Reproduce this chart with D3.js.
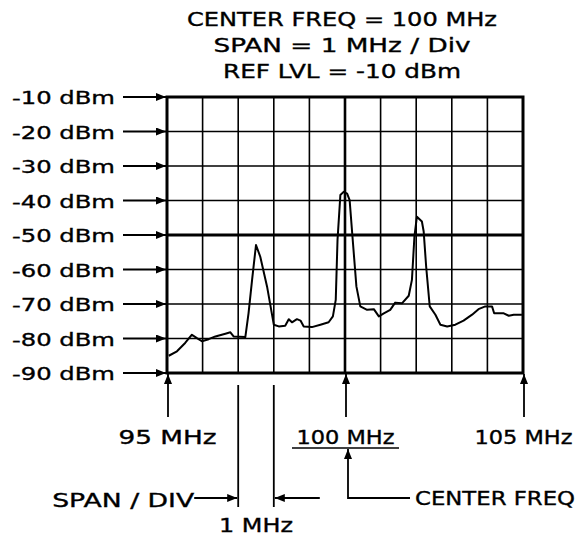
<!DOCTYPE html>
<html>
<head>
<meta charset="utf-8">
<script src="https://cdn.jsdelivr.net/npm/d3@7"></script>
<style>
  body { margin: 0; background: #fff; }
  svg text { font-family: "DejaVu Sans", sans-serif; fill: #000; stroke: #000; stroke-width: 0.35px; }
</style>
</head>
<body>
<div id="graf"></div>
<script>
// values
const titulos = ['CENTER FREQ = 100 MHz', 'SPAN = 1 MHz / Div', 'REF LVL = -10 dBm']
const niveles = [-10, -20, -30, -40, -50, -60, -70, -80, -90]
const freqTicks = [95, 100, 105]
const divisiones = [95, 96, 97, 98, 99, 100, 101, 102, 103, 104, 105]
const spanDiv = [97, 98]
const traceFreq = [95.05, 95.28, 95.51, 95.70, 95.84, 95.98, 96.17, 96.36, 96.64, 96.78, 96.87, 97.20,
  97.29, 97.39, 97.50, 97.62, 97.81, 98.00, 98.14, 98.32, 98.42, 98.51, 98.65, 98.75, 98.84, 99.07,
  99.31, 99.54, 99.66, 99.74, 99.79, 99.87, 99.96, 100.06, 100.13, 100.21, 100.32, 100.43, 100.62,
  100.81, 100.95, 101.09, 101.27, 101.41, 101.60, 101.79, 101.88, 101.95, 102.02, 102.16, 102.21,
  102.28, 102.38, 102.54, 102.68, 102.87, 103.10, 103.33, 103.57, 103.75, 103.94, 104.13, 104.19,
  104.46, 104.60, 104.74, 104.97]
const traceDbm = [-85.0, -83.7, -81.3, -78.9, -79.9, -80.8, -80.2, -79.4, -78.6, -78.2, -79.4, -79.6,
  -72.7, -63.0, -52.9, -56.3, -64.9, -76.0, -76.5, -76.3, -74.4, -75.3, -74.4, -74.8, -76.5, -76.7,
  -76.0, -75.3, -73.6, -68.8, -51.4, -38.4, -37.5, -38.0, -39.9, -50.5, -64.9, -70.7, -71.7,
  -71.5, -73.6, -72.7, -71.7, -69.6, -69.8, -67.6, -63.0, -50.5, -44.7, -46.1, -49.0,
  -59.2, -70.7, -73.1, -76.0, -76.5, -76.0, -74.8, -73.1, -71.5, -70.7, -70.7, -72.7,
  -72.7, -73.4, -73.1, -73.1]

const anchoTotal = 577
const altoTotal = 535
const margin = { top: 97, left: 167, right: 54, bottom: 162 }
const ancho = anchoTotal - margin.left - margin.right
const alto = altoTotal - margin.top - margin.bottom

const svg = d3.select('#graf')
  .append('svg')
  .attr('width', anchoTotal)
  .attr('height', altoTotal)

// arrow head
svg.append('defs').append('marker')
  .attr('id', 'flecha')
  .attr('markerUnits', 'userSpaceOnUse')
  .attr('viewBox', '0 0 10 8')
  .attr('refX', 10)
  .attr('refY', 4)
  .attr('markerWidth', 11)
  .attr('markerHeight', 8)
  .attr('orient', 'auto')
  .append('path')
  .attr('d', 'M0,0 L10,4 L0,8 Z')
  .attr('fill', '#000')

const g = svg.append('g')
  .attr('transform', `translate(${margin.left}, ${margin.top})`)

const x = d3.scaleLinear().domain([95, 105]).range([0, ancho])
const y = d3.scaleLinear().domain([-90, -10]).range([alto, 0])

// titulo
const anchos = [310, 257, 238]
svg.selectAll('text.titulo')
  .data(titulos)
  .enter()
  .append('text')
  .attr('class', 'titulo')
  .attr('x', 342)
  .attr('y', (d, i) => 26 + i * 26)
  .attr('text-anchor', 'middle')
  .attr('font-size', 19)
  .attr('textLength', (d, i) => anchos[i])
  .attr('lengthAdjust', 'spacingAndGlyphs')
  .text(d => d)

// grid
g.append('g')
  .selectAll('line.v')
  .data(divisiones)
  .enter()
  .append('line')
  .attr('x1', d => x(d)).attr('x2', d => x(d))
  .attr('y1', 0).attr('y2', alto)
  .attr('stroke', '#000')
  .attr('stroke-width', d => d === 100 ? 2.6 : 1.6)

g.append('g')
  .selectAll('line.h')
  .data(niveles)
  .enter()
  .append('line')
  .attr('x1', 0).attr('x2', ancho)
  .attr('y1', d => y(d)).attr('y2', d => y(d))
  .attr('stroke', '#000')
  .attr('stroke-width', d => d === -50 ? 2.8 : 1.6)

g.append('rect')
  .attr('x', 0).attr('y', 0)
  .attr('width', ancho).attr('height', alto)
  .attr('fill', 'none')
  .attr('stroke', '#000')
  .attr('stroke-width', 3)

// eje izquierdo: etiquetas dBm
const yAxisGroup = g.append('g')
  .attr('class', 'ejes')
  .call(d3.axisLeft(y).tickValues(niveles).tickSize(0).tickPadding(52)
    .tickFormat(d => `${d} dBm`))
yAxisGroup.select('.domain').remove()
yAxisGroup.selectAll('text')
  .attr('font-family', '"DejaVu Sans", sans-serif')
  .attr('font-size', 17.5)
  .attr('dy', '0.38em')
  .attr('textLength', 103)
  .attr('lengthAdjust', 'spacingAndGlyphs')

g.append('g')
  .selectAll('line')
  .data(niveles)
  .enter()
  .append('line')
  .attr('x1', -44).attr('x2', -1)
  .attr('y1', d => y(d)).attr('y2', d => y(d))
  .attr('stroke', '#000')
  .attr('stroke-width', 1.8)
  .attr('marker-end', 'url(#flecha)')

// eje inferior: MHz
const xAxisGroup = g.append('g')
  .attr('class', 'ejes')
  .attr('transform', `translate(0, ${alto})`)
  .call(d3.axisBottom(x).tickValues(freqTicks).tickSize(0).tickPadding(71)
    .tickFormat(d => `${d} MHz`))
xAxisGroup.select('.domain').remove()
xAxisGroup.selectAll('text')
  .attr('font-family', '"DejaVu Sans", sans-serif')
  .attr('font-size', 19)
  .attr('dy', 0)
  .attr('textLength', 98)
  .attr('lengthAdjust', 'spacingAndGlyphs')

g.append('g')
  .selectAll('line')
  .data(freqTicks)
  .enter()
  .append('line')
  .attr('x1', d => x(d) + 1).attr('x2', d => x(d) + 1)
  .attr('y1', alto + 44).attr('y2', alto + 1)
  .attr('stroke', '#000')
  .attr('stroke-width', 1.8)
  .attr('marker-end', 'url(#flecha)')

// underline 100 MHz
g.append('line')
  .attr('x1', x(100) - 53).attr('x2', x(100) + 54)
  .attr('y1', alto + 75).attr('y2', alto + 75)
  .attr('stroke', '#000').attr('stroke-width', 1.6)

// CENTER FREQ pointer
g.append('path')
  .attr('d', `M${x(100) + 65},${alto + 125} H${x(100) + 3} V${alto + 76}`)
  .attr('fill', 'none')
  .attr('stroke', '#000').attr('stroke-width', 1.8)
  .attr('marker-end', 'url(#flecha)')
g.append('text')
  .attr('x', x(100) + 70).attr('y', alto + 132)
  .attr('font-size', 19)
  .attr('textLength', 160)
  .attr('lengthAdjust', 'spacingAndGlyphs')
  .text('CENTER FREQ')

// SPAN / DIV
g.selectAll('line.span')
  .data(spanDiv)
  .enter()
  .append('line')
  .attr('x1', d => x(d)).attr('x2', d => x(d))
  .attr('y1', alto + 12).attr('y2', alto + 134)
  .attr('stroke', '#000').attr('stroke-width', 1.8)
g.append('line')
  .attr('x1', x(spanDiv[0]) - 44).attr('x2', x(spanDiv[0]) - 1)
  .attr('y1', alto + 125).attr('y2', alto + 125)
  .attr('stroke', '#000').attr('stroke-width', 1.8)
  .attr('marker-end', 'url(#flecha)')
g.append('line')
  .attr('x1', x(spanDiv[1]) + 46).attr('x2', x(spanDiv[1]) + 1)
  .attr('y1', alto + 125).attr('y2', alto + 125)
  .attr('stroke', '#000').attr('stroke-width', 1.8)
  .attr('marker-end', 'url(#flecha)')
g.append('text')
  .attr('x', x(spanDiv[0]) - 44).attr('y', alto + 134)
  .attr('text-anchor', 'end')
  .attr('font-size', 19)
  .attr('textLength', 142)
  .attr('lengthAdjust', 'spacingAndGlyphs')
  .text('SPAN / DIV')
g.append('text')
  .attr('x', (x(spanDiv[0]) + x(spanDiv[1])) / 2).attr('y', alto + 159)
  .attr('text-anchor', 'middle')
  .attr('font-size', 19)
  .attr('textLength', 74)
  .attr('lengthAdjust', 'spacingAndGlyphs')
  .text('1 MHz')

// traza del espectro
const traza = traceFreq.map((f, i) => ({ f: f, v: traceDbm[i] }))
g.append('path')
  .datum(traza)
  .attr('d', d3.line().x(d => x(d.f)).y(d => y(d.v)))
  .attr('fill', 'none')
  .attr('stroke', '#000')
  .attr('stroke-width', 2)
  .attr('stroke-linejoin', 'round')
</script>
</body>
</html>
